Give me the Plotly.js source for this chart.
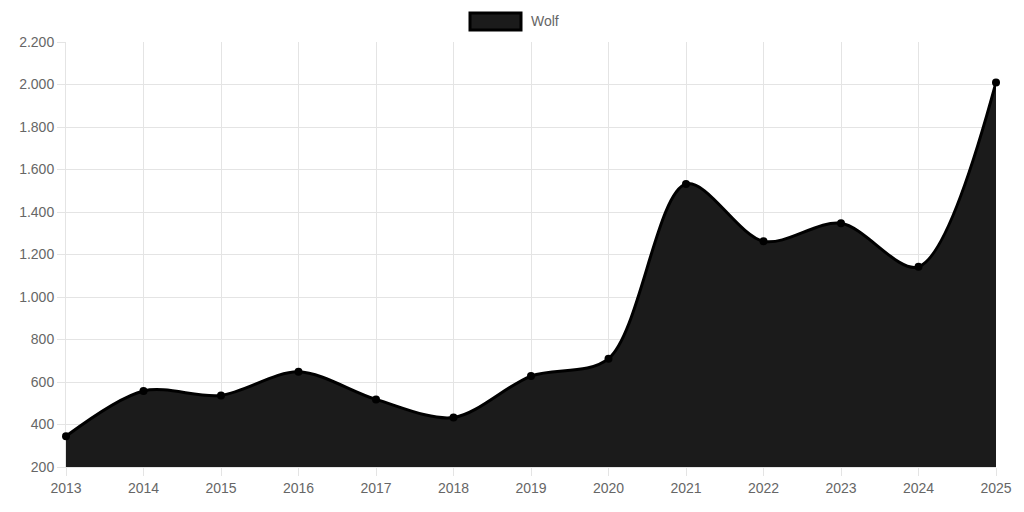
<!DOCTYPE html>
<html>
<head>
<meta charset="utf-8">
<script src="https://cdn.plot.ly/plotly-3.0.1.min.js"></script>
<style>html,body{margin:0;padding:0;background:#fff;}#chart{width:1024px;height:512px;}</style>
</head>
<body>
<div id="chart"></div>
<script>
const seriesName = "Wolf";
const years = [2013, 2014, 2015, 2016, 2017, 2018, 2019, 2020, 2021, 2022, 2023, 2024, 2025];
const wolfValues = [345, 558, 537, 648, 518, 433, 628, 710, 1532, 1262, 1347, 1142, 2010];
const yTicks = [200, 400, 600, 800, 1000, 1200, 1400, 1600, 1800, 2000, 2200];

const areaTrace = {
  x: years,
  y: wolfValues,
  name: seriesName,
  type: "scatter",
  mode: "lines",
  line: {shape: "spline", smoothing: 0.9, color: "#000000", width: 3},
  fill: "tozeroy",
  fillcolor: "#1b1b1b",
  showlegend: false,
  hoverinfo: "x+y"
};
const markerTrace = {
  x: years,
  y: wolfValues,
  name: seriesName,
  type: "scatter",
  mode: "markers",
  marker: {color: "#000000", size: 8},
  cliponaxis: false,
  showlegend: false,
  hoverinfo: "skip"
};

const gridColor = "#e4e4e4";
const axisCommon = {
  showgrid: true,
  gridcolor: gridColor,
  gridwidth: 1,
  ticks: "outside",
  ticklen: 8,
  tickcolor: gridColor,
  showline: true,
  linecolor: gridColor,
  zeroline: false,
  layer: "below traces",
  fixedrange: true
};
const layout = {
  width: 1024,
  height: 512,
  margin: {l: 66, r: 28, t: 42, b: 45},
  paper_bgcolor: "#ffffff",
  plot_bgcolor: "#ffffff",
  separators: ",.",
  font: {family: "Liberation Sans, Arial, sans-serif", size: 14, color: "#666666"},
  showlegend: false,
  xaxis: Object.assign({
    range: [years[0], years[years.length - 1]],
    tickvals: years,
    tickformat: "d"
  }, axisCommon),
  yaxis: Object.assign({
    range: [200, 2200],
    tickvals: yTicks,
    tickformat: ",d"
  }, axisCommon)
};

// legend box drawn in paper coordinates
const plotW = 1024 - 66 - 28, plotH = 512 - 42 - 45;
function px(x) { return (x - 66) / plotW; }
function py(y) { return (512 - 45 - y) / plotH; }
layout.shapes = [{
  type: "rect", xref: "paper", yref: "paper",
  x0: px(470), x1: px(521), y0: py(30), y1: py(13),
  line: {color: "#000000", width: 3}, fillcolor: "#1b1b1b", layer: "above"
}];
layout.annotations = [{
  xref: "paper", yref: "paper",
  x: px(529), y: py(21.5), xanchor: "left", yanchor: "middle",
  text: seriesName, showarrow: false,
  font: {family: "Liberation Sans, Arial, sans-serif", size: 14, color: "#666666"}
}];

Plotly.newPlot("chart", [areaTrace, markerTrace], layout, {displayModeBar: false, staticPlot: true});
</script>
</body>
</html>
